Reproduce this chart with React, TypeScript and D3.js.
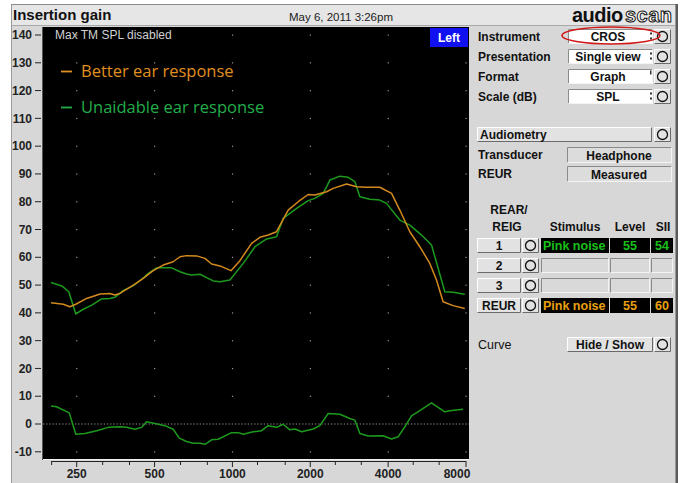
import React from 'react';
import * as d3 from 'd3';

const betterFreq = [199, 222, 235, 248, 273, 308, 336, 351, 367, 414, 452, 494, 540, 590, 627, 665, 727, 783, 831, 895, 987, 1069, 1186, 1277, 1375, 1481, 1643, 1796, 1963, 2083, 2312, 2452, 2763, 3019, 3301, 3714, 4124, 4438, 4853, 5303, 5797, 6152, 6525, 7131, 7913];
const betterDb = [43.6, 43.1, 42.2, 43.1, 45.2, 46.8, 47.0, 46.4, 47.0, 50.0, 52.4, 55.2, 57.2, 58.4, 60.2, 60.6, 60.5, 59.6, 57.6, 56.9, 55.2, 58.8, 65, 67.2, 68, 69.2, 77, 80, 82.6, 82.4, 83.6, 84.8, 86.4, 85.4, 85.2, 85.2, 83, 77, 69.2, 63.8, 57.8, 51.8, 44, 42.6, 41.6];

const unaidFreq = [199, 219, 233, 248, 265, 286, 312, 336, 351, 378, 414, 446, 473, 509, 582, 627, 665, 695, 749, 795, 843, 895, 978, 1101, 1222, 1356, 1481, 1571, 1771, 1963, 2083, 2244, 2382, 2603, 2803, 2975, 3110, 3399, 3714, 3942, 4438, 4853, 5385, 5885, 6625, 7131, 7913];
const unaidDb = [50.9, 49.7, 47.6, 39.6, 41.3, 42.8, 45, 45.2, 45.6, 48, 49.8, 52.1, 54.2, 56.2, 56.2, 54.8, 54, 53.6, 53.9, 52.7, 51.5, 51.2, 51.8, 57.8, 63.8, 66.6, 67.4, 74, 77.6, 80.4, 81.2, 83, 87.8, 89.2, 88.8, 87.2, 81.8, 80.9, 80.6, 79.4, 73.4, 71.6, 68, 64.4, 47.6, 47.4, 46.7];

const diffFreq = [199, 209, 234, 248, 269, 299, 331, 367, 390, 420, 446, 466, 502, 548, 590, 623, 665, 705, 749, 783, 831, 881, 993, 1053, 1101, 1203, 1297, 1375, 1481, 1571, 1668, 1744, 1851, 2052, 2178, 2346, 2603, 2845, 2975, 3110, 3347, 3826, 4124, 4372, 4642, 4925, 5303, 5885, 6625, 6920, 7797];
const diffDb = [6.5, 6.2, 4.0, -3.7, -3.4, -2.4, -1.2, -1.0, -1.2, -1.9, -1.2, 0.8, 0.2, -0.6, -1.9, -5.1, -6.3, -6.9, -6.9, -7.3, -5.7, -5.5, -3.1, -3.1, -3.7, -2.8, -2.4, -0.6, -1.2, -0.1, -2.1, -1.8, -2.8, -1.8, -0.6, 3.8, 3.5, 2.0, 1.4, -3.4, -4.3, -4.2, -5.4, -4.6, -1.0, 2.9, 4.8, 7.6, 4.4, 4.8, 5.3];

const yTicks = [-10, 0, 10, 20, 30, 40, 50, 60, 70, 80, 90, 100, 110, 120, 130, 140];
const xTickLabels = [250, 500, 1000, 2000, 4000, 8000];
const xMinorTicks = [200, 250, 315, 400, 500, 630, 800, 1000, 1250, 1600, 2000, 2500, 3150, 4000, 5000, 6300, 8000];

const settingLabels = ['Instrument', 'Presentation', 'Format', 'Scale (dB)'];
const settingValues = ['CROS', 'Single view', 'Graph', 'SPL'];
const rowLabels = ['1', '2', '3', 'REUR'];
const rowStimulus = ['Pink noise', '', '', 'Pink noise'];
const rowLevel = ['55', '', '', '55'];
const rowSii = ['54', '', '', '60'];

const legendLabels = ['Better ear response', 'Unaidable ear response'];

const ORANGE = '#d48a1e';
const GREEN = '#1d9a1d';
const LEG_ORANGE = '#e0901f';
const LEG_GREEN = '#22ad4a';
const PANEL = '#d7d7d7';
const UI_FONT = '"Liberation Sans", Arial, sans-serif';

const plot = { left: 43, right: 469, top: 27, bottom: 459 };
const x = d3.scaleLog().domain([250, 8000]).range([76.7, 466]);
const y = d3.scaleLinear().domain([-10, 140]).range([451.8, 35]);

function Bevel({ x0, y0, w, h, fill = '#e2e2e2' }: { x0: number; y0: number; w: number; h: number; fill?: string }) {
  return (
    <g>
      <rect x={x0} y={y0} width={w} height={h} fill={fill} />
      <path d={`M${x0 + 0.5},${y0 + h - 0.5}V${y0 + 0.5}H${x0 + w - 0.5}`} stroke="#ffffff" fill="none" />
      <path d={`M${x0 + 0.5},${y0 + h - 0.5}H${x0 + w - 0.5}V${y0 + 0.5}`} stroke="#6a6a6a" fill="none" />
    </g>
  );
}

function Inset({ x0, y0, w, h, fill }: { x0: number; y0: number; w: number; h: number; fill: string }) {
  return (
    <g>
      <rect x={x0} y={y0} width={w} height={h} fill={fill} />
      <path d={`M${x0 + 0.5},${y0 + h - 0.5}V${y0 + 0.5}H${x0 + w - 0.5}`} stroke="#8a8a8a" fill="none" />
      <path d={`M${x0 + 0.5},${y0 + h - 0.5}H${x0 + w - 0.5}V${y0 + 0.5}`} stroke="#f4f4f4" fill="none" />
    </g>
  );
}

function CircleBtn({ x0, y0, w = 17, h = 15 }: { x0: number; y0: number; w?: number; h?: number }) {
  return (
    <g>
      <Bevel x0={x0} y0={y0} w={w} h={h} />
      <circle cx={x0 + w / 2} cy={y0 + h / 2} r={5} fill="none" stroke="#111" strokeWidth={1.3} />
    </g>
  );
}

export default function App() {
  const line = d3
    .line<[number, number]>()
    .x((d) => x(d[0]))
    .y((d) => y(d[1]));
  const better = line(betterFreq.map((f, i) => [f, betterDb[i]] as [number, number])) || '';
  const unaid = line(unaidFreq.map((f, i) => [f, unaidDb[i]] as [number, number])) || '';
  const diff = line(diffFreq.map((f, i) => [f, diffDb[i]] as [number, number])) || '';

  const dots: React.ReactNode[] = [];
  xTickLabels.forEach((f) =>
    yTicks.forEach((t) => {
      if (t === 0) return;
      dots.push(<rect key={`${f}-${t}`} x={x(f) - 0.5} y={y(t) - 0.5} width={1.2} height={1.2} fill="#9a9a9a" />);
    })
  );

  return (
    <svg
      width={684}
      height={483}
      style={{ position: 'absolute', left: 0, top: 0, display: 'block' }}
      fontFamily={UI_FONT}
    >
      <rect x={0} y={0} width={684} height={483} fill="#ffffff" />
      {/* outer panel */}
      <rect x={11} y={4} width={667} height={479} fill={PANEL} />
      <line x1={11.5} y1={4} x2={11.5} y2={483} stroke="#9a9a9a" />
      <line x1={11} y1={4.5} x2={678} y2={4.5} stroke="#8a8a8a" />
      <rect x={675.5} y={4} width={2.5} height={479} fill="#5a5a5a" />
      {/* title bar */}
      <rect x={12} y={5} width={663} height={20} fill="#e6e6e6" />
      <line x1={12} y1={25.5} x2={675} y2={25.5} stroke="#a8a8a8" />
      <text x={13} y={20} fontSize={15} fontWeight={700} fill="#111">Insertion gain</text>
      <text x={289} y={21} fontSize={11.5} fill="#222">May 6, 2011 3:26pm</text>
      <text x={572} y={22} fontSize={20} fontWeight={700} fill="#111" letterSpacing={-0.5}>audio</text>
      <text x={625} y={22} fontSize={20} fontWeight={700} fill="#ffffff" stroke="#111" strokeWidth={1} letterSpacing={0.5}>scan</text>

      {/* plot background */}
      <rect x={plot.left} y={plot.top} width={plot.right - plot.left} height={plot.bottom - plot.top} fill="#000" />
      <line x1={plot.left - 0.5} y1={plot.top} x2={plot.left - 0.5} y2={plot.bottom + 1} stroke="#555" />
      <line x1={plot.left} y1={plot.bottom + 0.5} x2={plot.right} y2={plot.bottom + 0.5} stroke="#f0f0f0" />

      {dots}
      <line x1={plot.left} x2={plot.right} y1={y(0)} y2={y(0)} stroke="#9a9a9a" strokeWidth={1} strokeDasharray="1.2,2" />

      {/* y axis */}
      {yTicks.map((t) => (
        <g key={t}>
          <line x1={35} x2={41} y1={y(t)} y2={y(t)} stroke="#222" strokeWidth={1} />
          <text x={32} y={y(t) + 4.2} textAnchor="end" fontSize={12} fontWeight={700} fill="#222">{t}</text>
        </g>
      ))}

      {/* x axis */}
      <line x1={x(200)} x2={x(8000)} y1={461.5} y2={461.5} stroke="#222" />
      {xMinorTicks.map((f) => (
        <line key={f} x1={x(f)} x2={x(f)} y1={461} y2={xTickLabels.includes(f) ? 467 : 465} stroke="#222" />
      ))}
      {xTickLabels.map((f) => (
        <text key={f} x={f === 8000 ? x(f) - 9 : x(f)} y={478} textAnchor="middle" fontSize={12} fontWeight={700} fill="#222">{f}</text>
      ))}

      {/* curves */}
      <defs>
        <clipPath id="plotclip">
          <rect x={plot.left} y={plot.top} width={plot.right - plot.left} height={plot.bottom - plot.top} />
        </clipPath>
      </defs>
      <g clipPath="url(#plotclip)" fill="none" strokeWidth={1.5} strokeLinejoin="round">
        <path d={unaid} stroke={GREEN} />
        <path d={better} stroke={ORANGE} />
        <path d={diff} stroke={GREEN} />
      </g>

      {/* labels in plot */}
      <text x={55} y={39} fontSize={12} fill="#d0d0d0">Max TM SPL disabled</text>
      <rect x={430} y={28} width={38} height={19} fill="#1010f0" />
      <text x={449} y={42} textAnchor="middle" fontSize={12} fontWeight={700} fill="#ffffff">Left</text>
      <line x1={61} x2={72} y1={71.5} y2={71.5} stroke={LEG_ORANGE} strokeWidth={1.8} />
      <text x={81} y={77} fontSize={16.5} fontFamily='"Open Sans", sans-serif' fill={LEG_ORANGE}>
        {legendLabels[0]}
      </text>
      <line x1={61} x2={72} y1={107.5} y2={107.5} stroke={LEG_GREEN} strokeWidth={1.8} />
      <text x={81} y={113} fontSize={16.5} fontFamily='"Open Sans", sans-serif' fill={LEG_GREEN}>
        {legendLabels[1]}
      </text>

      {/* settings panel */}
      {settingLabels.map((lab, i) => {
        const cy = 36.5 + i * 20;
        return (
          <g key={lab}>
            <text x={478} y={cy + 4.3} fontSize={12} fontWeight={700} fill="#111">{lab}</text>
            <Inset x0={568} y0={cy - 7.5} w={85} h={15} fill="#ffffff" />
            <text x={608} y={cy + 4.3} textAnchor="middle" fontSize={12} fontWeight={700} fill="#111">{settingValues[i]}</text>
            {i === 2 ? (
              <rect x={650} y={cy - 6} width={1.5} height={4} fill="#333" />
            ) : (
              <g>
                <rect x={650} y={cy - 4} width={2} height={2} fill="#333" />
                <rect x={650} y={cy + 1} width={2} height={2} fill="#333" />
              </g>
            )}
            <CircleBtn x0={654} y0={cy - 7.5} />
          </g>
        );
      })}
      <ellipse cx={611} cy={35.5} rx={49} ry={8.5} fill="none" stroke="#d01818" strokeWidth={1.5} />

      {/* audiometry */}
      <Bevel x0={477} y0={127} w={175} h={15} />
      <text x={480} y={139} fontSize={12} fontWeight={700} fill="#111">Audiometry</text>
      <CircleBtn x0={654} y0={127} />
      <text x={478} y={159} fontSize={12} fontWeight={700} fill="#111">Transducer</text>
      <Inset x0={567} y0={147} w={105} h={16} fill="#dcdcdc" />
      <text x={619} y={159.5} textAnchor="middle" fontSize={12} fontWeight={700} fill="#111">Headphone</text>
      <text x={478} y={178} fontSize={12} fontWeight={700} fill="#111">REUR</text>
      <Inset x0={567} y0={166} w={105} h={16} fill="#dcdcdc" />
      <text x={619} y={178.5} textAnchor="middle" fontSize={12} fontWeight={700} fill="#111">Measured</text>

      {/* REAR/REIG table */}
      <text x={509} y={214} textAnchor="middle" fontSize={12} fontWeight={700} fill="#111">REAR/</text>
      <text x={507} y={231} textAnchor="middle" fontSize={12} fontWeight={700} fill="#111">REIG</text>
      <text x={575} y={231} textAnchor="middle" fontSize={12} fontWeight={700} fill="#111">Stimulus</text>
      <text x={630} y={231} textAnchor="middle" fontSize={12} fontWeight={700} fill="#111">Level</text>
      <text x={663} y={231} textAnchor="middle" fontSize={12} fontWeight={700} fill="#111">SII</text>
      {rowLabels.map((lab, i) => {
        const top = 238 + i * 20;
        const active = rowStimulus[i] !== '';
        const col = i === 0 ? '#18c018' : '#e8a010';
        const boxFill = active ? '#000' : '#d9d9d9';
        return (
          <g key={lab}>
            <Bevel x0={477} y0={top} w={44} h={15} />
            <text x={499} y={top + 12} textAnchor="middle" fontSize={12} fontWeight={700} fill="#111">{lab}</text>
            <CircleBtn x0={522} y0={top} />
            {active ? (
              <g>
                <rect x={541} y={top} width={68} height={15} fill={boxFill} />
                <rect x={610} y={top} width={40} height={15} fill={boxFill} />
                <rect x={651} y={top} width={22} height={15} fill={boxFill} />
              </g>
            ) : (
              <g>
                <Inset x0={541} y0={top} w={68} h={15} fill={boxFill} />
                <Inset x0={610} y0={top} w={40} h={15} fill={boxFill} />
                <Inset x0={651} y0={top} w={22} h={15} fill={boxFill} />
              </g>
            )}
            {active && (
              <g fontSize={12.5} fontWeight={700} fill={col}>
                <text x={543} y={top + 12}>{rowStimulus[i]}</text>
                <text x={630} y={top + 12} textAnchor="middle">{rowLevel[i]}</text>
                <text x={662} y={top + 12} textAnchor="middle">{rowSii[i]}</text>
              </g>
            )}
          </g>
        );
      })}

      {/* curve hide/show */}
      <text x={478} y={349} fontSize={12.5} fill="#111">Curve</text>
      <Bevel x0={567} y0={337} w={86} h={15} />
      <text x={610} y={349} textAnchor="middle" fontSize={12} fontWeight={700} fill="#111">Hide / Show</text>
      <CircleBtn x0={654} y0={337} />
    </svg>
  );
}
